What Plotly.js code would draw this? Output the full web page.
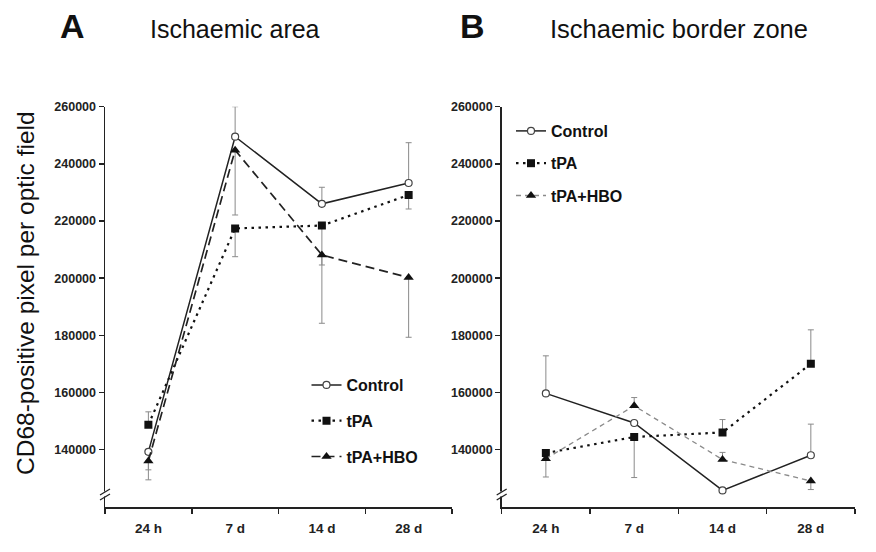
<!DOCTYPE html>
<html>
<head>
<meta charset="utf-8">
<script src="https://cdn.plot.ly/plotly-3.0.1.min.js"></script>
<style>html,body{margin:0;padding:0;background:#fff;}#chart{width:876px;height:552px;}</style>
</head>
<body>
<div id="chart"></div>
<script>
// ---- data ----
const categories = ['24 h', '7 d', '14 d', '28 d'];
const yTickVals = [140000, 160000, 180000, 200000, 220000, 240000, 260000];
const seriesNames = ['Control', 'tPA', 'tPA+HBO'];

// Panel A: Ischaemic area
const areaControl = [139200, 249500, 226000, 233300];
const areaControlUp = [0, 10500, 5800, 14100];
const areaControlDown = [6300, 0, 0, 0];
const areaTPA = [148700, 217400, 218400, 229100];
const areaTPAUp = [4500, 0, 0, 0];
const areaTPADown = [0, 9900, 13800, 4900];
const areaHBO = [136000, 244800, 208100, 200200];
const areaHBOUp = [0, 0, 0, 0];
const areaHBODown = [6600, 22700, 23900, 20900];

// Panel B: Ischaemic border zone
const borderControl = [159650, 149300, 125700, 138000];
const borderControlUp = [13150, 0, 0, 10900];
const borderControlDown = [0, 0, 0, 0];
const borderTPA = [138800, 144400, 146000, 170000];
const borderTPAUp = [0, 0, 4500, 11900];
const borderTPADown = [8400, 14200, 0, 0];
const borderHBO = [136800, 155300, 136500, 129000];
const borderHBOUp = [0, 2900, 2500, 0];
const borderHBODown = [0, 0, 0, 3000];

// ---- layout helpers ----
const W = 876, H = 552;
const px = v => v / W;
const py = v => 1 - v / H;
const FONT = 'Liberation Sans, Arial, Helvetica, sans-serif';

function err(up, down) {
  return {type: 'data', symmetric: false, array: up, arrayminus: down,
          color: '#8a8a8a', thickness: 1, width: 3};
}
const markerControl = {symbol: 'circle', size: 7, color: '#ffffff', line: {color: '#444', width: 1.2}};
const markerTPA = {symbol: 'square', size: 8, color: '#111', line: {width: 0}};
const markerHBO = {symbol: 'triangle-up', size: 9, color: '#111', line: {width: 0}};

const traces = [
  {x: categories, y: areaControl, name: seriesNames[0], xaxis: 'x', yaxis: 'y', legend: 'legend', legendgroup: 'a1',
   mode: 'lines+markers', line: {color: '#222', width: 1.5, dash: 'solid'}, marker: markerControl,
   error_y: err(areaControlUp, areaControlDown)},
  {x: categories, y: areaTPA, name: seriesNames[1], xaxis: 'x', yaxis: 'y', legend: 'legend', legendgroup: 'a2',
   mode: 'lines+markers', line: {color: '#111', width: 2.2, dash: '2.5px,4.5px'}, marker: markerTPA,
   error_y: err(areaTPAUp, areaTPADown)},
  {x: categories, y: areaHBO, name: seriesNames[2], xaxis: 'x', yaxis: 'y', legend: 'legend', legendgroup: 'a3',
   mode: 'lines+markers', line: {color: '#222', width: 1.7, dash: '9px,5px'}, marker: markerHBO,
   error_y: err(areaHBOUp, areaHBODown)},
  {x: categories, y: borderControl, name: seriesNames[0], xaxis: 'x2', yaxis: 'y2', legend: 'legend2', legendgroup: 'b1',
   mode: 'lines+markers', line: {color: '#222', width: 1.5, dash: 'solid'}, marker: markerControl,
   error_y: err(borderControlUp, borderControlDown)},
  {x: categories, y: borderTPA, name: seriesNames[1], xaxis: 'x2', yaxis: 'y2', legend: 'legend2', legendgroup: 'b2',
   mode: 'lines+markers', line: {color: '#111', width: 2.2, dash: '2.5px,4.5px'}, marker: markerTPA,
   error_y: err(borderTPAUp, borderTPADown)},
  {x: categories, y: borderHBO, name: seriesNames[2], xaxis: 'x2', yaxis: 'y2', legend: 'legend2', legendgroup: 'b3',
   mode: 'lines+markers', line: {color: '#8a8a8a', width: 1.3, dash: '5px,4px'}, marker: markerHBO,
   error_y: err(borderHBOUp, borderHBODown)}
];

const yDomain = [py(506.7), py(106.7)];
function yAxis(anchor) {
  return {domain: yDomain, anchor: anchor, range: [120000, 260000], tickvals: yTickVals,
    ticktext: yTickVals.map(String), showgrid: false, zeroline: false, showline: true,
    linecolor: '#222', linewidth: 1.5, ticks: 'outside', ticklen: 5, tickwidth: 1.5, tickcolor: '#222',
    tickfont: {family: FONT, size: 12.5, color: '#222', weight: 'bold'}, fixedrange: true};
}
function xAxis(domain, anchor) {
  return {domain: domain, anchor: anchor, type: 'category', categoryorder: 'array', categoryarray: categories,
    range: [-0.5, 3.5], tickson: 'boundaries', showgrid: false, zeroline: false, showline: true,
    linecolor: '#222', linewidth: 2, ticks: 'outside', ticklen: 5, tickwidth: 1.5, tickcolor: '#222',
    ticklabelstandoff: 8,
    tickfont: {family: FONT, size: 13.5, color: '#222', weight: 'bold'}, fixedrange: true};
}

function breakShapes(xp, yMid) {
  return [
    {type: 'rect', xref: 'paper', yref: 'paper', x0: px(xp - 4), x1: px(xp + 4), y0: py(yMid + 2.5), y1: py(yMid - 2.5),
     fillcolor: '#ffffff', line: {width: 0}, layer: 'above'},
    {type: 'line', xref: 'paper', yref: 'paper', x0: px(xp - 5), y0: py(yMid + 1), x1: px(xp + 5), y1: py(yMid - 5),
     line: {color: '#222', width: 1.3}, layer: 'above'},
    {type: 'line', xref: 'paper', yref: 'paper', x0: px(xp - 5), y0: py(yMid + 6), x1: px(xp + 5), y1: py(yMid),
     line: {color: '#222', width: 1.3}, layer: 'above'}
  ];
}

const layout = {
  width: W, height: H, margin: {l: 0, r: 0, t: 0, b: 0},
  paper_bgcolor: '#ffffff', plot_bgcolor: 'rgba(0,0,0,0)',
  font: {family: FONT, color: '#111'},
  xaxis: xAxis([px(105), px(452)], 'y'),
  yaxis: yAxis('x'),
  xaxis2: xAxis([px(501.7), px(855)], 'y2'),
  yaxis2: yAxis('x2'),
  showlegend: true,
  legend: {x: px(306.5), y: py(368), xanchor: 'left', yanchor: 'top', bgcolor: 'rgba(0,0,0,0)',
    font: {family: FONT, size: 16, color: '#111', weight: 'bold'}, traceorder: 'grouped', tracegroupgap: 12, itemwidth: 30},
  legend2: {x: px(511), y: py(114), xanchor: 'left', yanchor: 'top', bgcolor: 'rgba(0,0,0,0)',
    font: {family: FONT, size: 16, color: '#111', weight: 'bold'}, traceorder: 'grouped', tracegroupgap: 8.5, itemwidth: 30},
  shapes: [].concat(breakShapes(105, 494), breakShapes(501.7, 494)),
  annotations: [
    {text: 'A', xref: 'paper', yref: 'paper', x: px(72), y: py(26), xanchor: 'center', yanchor: 'middle', showarrow: false,
     font: {family: FONT, size: 34, color: '#111', weight: 'bold'}},
    {text: 'Ischaemic area', xref: 'paper', yref: 'paper', x: px(235), y: py(29), xanchor: 'center', yanchor: 'middle', showarrow: false,
     font: {family: FONT, size: 25, color: '#111'}},
    {text: 'B', xref: 'paper', yref: 'paper', x: px(472), y: py(26), xanchor: 'center', yanchor: 'middle', showarrow: false,
     font: {family: FONT, size: 34, color: '#111', weight: 'bold'}},
    {text: 'Ischaemic border zone', xref: 'paper', yref: 'paper', x: px(679), y: py(29), xanchor: 'center', yanchor: 'middle', showarrow: false,
     font: {family: FONT, size: 25.5, color: '#111'}},
    {text: 'CD68-positive pixel per optic field', xref: 'paper', yref: 'paper', x: px(25), y: py(293), xanchor: 'center', yanchor: 'middle',
     textangle: -90, showarrow: false, font: {family: FONT, size: 24.5, color: '#111'}}
  ]
};

Plotly.newPlot('chart', traces, layout, {displayModeBar: false, staticPlot: true});
</script>
</body>
</html>
